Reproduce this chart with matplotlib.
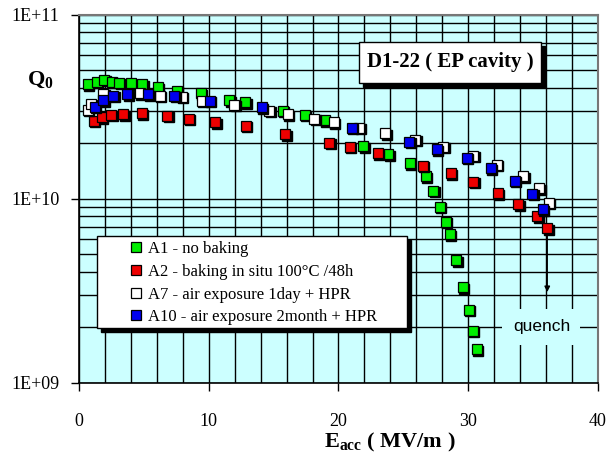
import matplotlib
matplotlib.use("Agg")
import matplotlib.pyplot as plt
import matplotlib.transforms as mtransforms
from matplotlib.patches import Rectangle
from matplotlib.ticker import MultipleLocator, LogLocator, NullFormatter

plt.rcParams['font.family'] = 'Liberation Serif'
plt.rcParams['mathtext.fontset'] = 'custom'
plt.rcParams['mathtext.rm'] = 'Liberation Serif'
plt.rcParams['mathtext.bf'] = 'Liberation Serif:bold'
plt.rcParams['mathtext.it'] = 'Liberation Serif:italic'

# Eacc in MV/m, Q0 in units of 1E+10
a1_e = [0.67, 1.36, 1.93, 2.52, 3.10, 3.98, 4.88, 6.09, 7.53, 9.40, 11.58, 12.81, 15.69, 17.41,
        18.95, 21.90, 23.83, 25.50, 26.73, 27.30, 27.81, 28.25, 28.58, 29.07, 29.56, 30.05, 30.35, 30.64]
a1_q = [4.18, 4.31, 4.41, 4.31, 4.26, 4.23, 4.18, 4.02, 3.85, 3.73, 3.43, 3.33, 2.99, 2.85,
        2.67, 1.92, 1.74, 1.55, 1.32, 1.10, 0.90, 0.75, 0.638, 0.463, 0.329, 0.248, 0.191, 0.152]

a2_e = [1.13, 1.75, 2.49, 3.41, 4.85, 6.82, 8.47, 10.49, 12.87, 15.89, 19.28, 20.88, 23.04,
        26.48, 28.66, 30.39, 32.28, 33.87, 35.31, 36.09]
a2_q = [2.65, 2.77, 2.85, 2.87, 2.90, 2.81, 2.71, 2.59, 2.48, 2.24, 2.01, 1.91, 1.76,
        1.51, 1.37, 1.23, 1.07, 0.93, 0.80, 0.69]

a7_e = [0.67, 0.90, 1.87, 4.70, 6.22, 7.91, 9.48, 11.96, 14.66, 16.10, 18.12, 19.65, 21.59,
        23.59, 25.92, 28.07, 30.37, 32.20, 34.23, 35.49, 36.19]
a7_q = [3.03, 3.27, 3.72, 3.73, 3.61, 3.57, 3.40, 3.24, 2.99, 2.87, 2.72, 2.59, 2.43,
        2.27, 2.08, 1.91, 1.71, 1.53, 1.32, 1.14, 0.95]

a10_e = [1.21, 1.87, 2.64, 3.72, 5.34, 7.34, 10.09, 14.08, 21.01, 25.45, 27.56, 29.87,
         31.72, 33.57, 34.94, 35.75]
a10_q = [3.16, 3.42, 3.61, 3.68, 3.69, 3.61, 3.40, 3.13, 2.43, 2.04, 1.85, 1.67,
         1.46, 1.25, 1.06, 0.875]

labels = ['A1 - no baking',
          'A2 - baking in situ 100°C /48h',
          'A7 - air exposure 1day + HPR',
          'A10 - air exposure 2month + HPR']
colors = ['#00ee00', '#ee0000', '#ffffff', '#0000ee']

y_ticks = [1e9, 1e10, 1e11]
y_ticklabels = ['1E+09', '1E+10', '1E+11']
x_ticks = [0, 10, 20, 30, 40]
quench_q = 0.31

fig = plt.figure(figsize=(6.08, 4.58), dpi=100)
ax = fig.add_axes([0.1299, 0.1648, 0.8536, 0.8035])
ax.set_facecolor('#ccffff')
ax.set_yscale('log')
ax.set_xlim(0, 40)
ax.set_ylim(1e9, 1e11)

ax.set_xticks(x_ticks)
ax.xaxis.set_minor_locator(MultipleLocator(2))
ax.set_yticks(y_ticks, labels=y_ticklabels)
ax.yaxis.set_minor_locator(LogLocator(base=10, subs=range(2, 10)))
ax.yaxis.set_minor_formatter(NullFormatter())
ax.tick_params(which='major', direction='out', length=6, width=1, labelsize=13)
ax.tick_params(axis='y', which='major', pad=8)
ax.tick_params(axis='x', which='major', pad=16)
ax.tick_params(which='minor', length=0)
ax.grid(True, which='both', color='black', linewidth=1.0)
ax.set_axisbelow(True)

for side in ['left', 'bottom']:
    ax.spines[side].set_color('black')
    ax.spines[side].set_linewidth(1.2)
for side in ['top', 'right']:
    ax.spines[side].set_color('#777777')
    ax.spines[side].set_linewidth(1.5)

shadow = mtransforms.offset_copy(ax.transData, fig=fig, x=1.5, y=-1.5, units='dots')
order = [(a2_e, a2_q, 1), (a1_e, a1_q, 0), (a7_e, a7_q, 2), (a10_e, a10_q, 3)]
handles = [None] * 4
for e, q, i in order:
    qv = [v * 1e10 for v in q]
    ax.plot(e, qv, 's', ms=6.5, color='black', mec='black', transform=shadow, zorder=2 + i * 0.1)
    h, = ax.plot(e, qv, 's', ms=6.5, color=colors[i], mec='black', mew=0.9,
                 label=labels[i], zorder=2.05 + i * 0.1)
    handles[i] = h

# legend frame with drop shadow
sh = mtransforms.offset_copy(ax.transAxes, fig=fig, x=4, y=-4, units='dots')
ax.add_patch(Rectangle((0.035, 0.148), 0.597, 0.25, transform=sh, fc='black', ec='black', zorder=4))
ax.add_patch(Rectangle((0.035, 0.148), 0.597, 0.25, transform=ax.transAxes, fc='white',
                       ec='black', lw=1, zorder=4.1))
leg = ax.legend(handles=handles, loc='upper left', bbox_to_anchor=(0.1, 0.384), frameon=False,
                borderpad=0, borderaxespad=0, handlelength=0.6, handletextpad=0.42,
                labelspacing=0.4, fontsize=12)
leg.set_zorder(5)

# title box with drop shadow
ax.add_patch(Rectangle((0.5395, 0.815), 0.3505, 0.111, transform=sh, fc='black', ec='black', zorder=4))
ax.add_patch(Rectangle((0.5395, 0.815), 0.3505, 0.111, transform=ax.transAxes, fc='white',
                       ec='black', lw=1, zorder=4.1))
ax.text(0.715, 0.871, 'D1-22 ( EP cavity )', transform=ax.transAxes, ha='center', va='center',
        fontsize=15, fontweight='bold', zorder=5)

# quench marker below the last A2 point
ax.annotate('', xy=(a2_e[-1], quench_q * 1e10), xytext=(a2_e[-1], a2_q[-1] * 1e10 * 0.92),
            arrowprops=dict(arrowstyle='-|>', color='black', lw=1, mutation_scale=8,
                            shrinkA=0, shrinkB=0), zorder=4)
ax.text(0.891, 0.152, 'quench', transform=ax.transAxes, ha='center', va='center',
        fontsize=12.5, family='Liberation Sans', zorder=4,
        bbox=dict(boxstyle='square,pad=0.6', fc='#ccffff', ec='none'))

ax.text(-0.075, 0.822, r'$\mathbf{Q}_{\mathbf{0}}$', transform=ax.transAxes, ha='center',
        va='center', fontsize=16)
ax.text(0.599, -0.164, r'$\mathbf{E}_{\mathbf{acc}}$' + ' ( MV/m )', transform=ax.transAxes,
        ha='center', va='center', fontsize=16, fontweight='bold')

fig.savefig('out.png', dpi=100)
